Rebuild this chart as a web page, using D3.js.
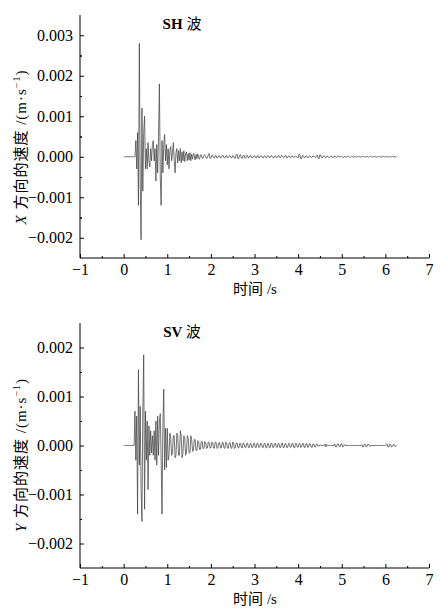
<!DOCTYPE html>
<html>
<head>
<meta charset="utf-8">
<script src="https://cdn.jsdelivr.net/npm/d3@7"></script>
<style>
  body { margin: 0; background: #fff; }
  svg text { font-family: "Liberation Serif", serif; fill: #000; }
  svg text tspan.cjk { font-family: "Noto Sans CJK SC", sans-serif; }
</style>
</head>
<body>
<div id="vis"></div>
<script>
// sampling interval of the records, s
var sampleStep = 0.02;

// SH wave, X-direction velocity, units of 1e-4 m/s, one row = 0.2 s
var shVelocity = [
  0, 0, 0, 0, 0, 0, 0, 0, 0, 0,
  0, 0, 0, 0, 4, -3, 6, -12, 28, -6,
  -20.5, 12, -8.5, 6, 10, -3, 2, -3, 3.5, -1,
  -2.5, 2, -1, 3, 4, -1, 2, -6, 3, -4,
  5, 18, -5, -12, 4, -4, 3, 5.5, -1, 3,
  -2, 2, -3, 1.5, 2.5, -1, 1, 3.5, -1, -4,
  1, 2, -1.5, 1.5, -1, 2, -1.5, 1.2, -1, 1.5,
  -1.2, 0.8, 1.2, -1, 0.8, -0.8, 1, -1, 0.6, -0.6,
  0.8, 0.2, -0.8, 0.6, -0.5, 0.7, -0.2, -0.6, 0.4, 0.5,
  -0.4, -0.3, 0.3, 0.5, 0.1, -0.4, -0.3, 0.4, 0.8, -0.3,
  -0.4, 0.3, 0.4, -0.2, -0.4, 0.3, 0.3, -0.3, -0.2, 0.3,
  0.2, -0.3, -0.2, 0.3, 0.3, -0.2, -0.3, 0.2, 0.3, -0.3,
  -0.2, 0.2, 0.3, -0.2, -0.3, 0.3, 0.2, -0.3, -0.4, 0.5,
  0.6, -0.5, -0.4, 0.4, 0.5, -0.3, -0.4, 0.3, 0.4, -0.3,
  -0.3, 0.3, 0.3, -0.3, -0.2, 0.3, 0.2, -0.3, -0.2, 0.2,
  0.3, -0.2, -0.3, 0.2, 0.3, -0.3, -0.2, 0.2, 0.2, -0.2,
  -0.3, 0.2, 0.2, -0.2, -0.3, 0.3, 0.2, -0.2, -0.2, 0.3,
  0.2, -0.2, -0.3, 0.2, 0.2, -0.2, -0.2, 0.2, 0.3, -0.2,
  -0.2, 0.3, 0.2, -0.2, -0.2, 0.2, 0.3, -0.3, -0.2, 0.2,
  0.2, -0.2, -0.2, 0.2, 0.2, -0.2, -0.1, 0.2, 0.1, -0.2,
  -0.3, 0.6, 0.5, -0.5, -0.4, 0.3, 0.2, -0.2, -0.2, 0.2,
  0.2, -0.2, -0.2, 0.2, 0.1, -0.2, -0.1, 0.2, 0.2, -0.1,
  -0.2, 0.2, 0.4, -0.4, -0.5, 0.5, 0.4, -0.3, -0.2, 0.2,
  0.2, -0.2, -0.2, 0.2, 0.1, -0.2, -0.2, 0.1, 0.2, -0.1,
  -0.2, 0.1, 0.2, -0.1, -0.1, 0.1, 0.2, -0.1, -0.1, 0.1,
  0.1, -0.1, -0.2, 0.1, 0.1, -0.1, -0.1, 0.1, 0.1, -0.1,
  -0.1, 0.1, 0.1, -0.1, -0.1, 0.1, 0, -0.1, 0, 0.1,
  0.1, -0.1, 0, 0, 0.1, 0, -0.1, 0, 0, 0.1,
  0, -0.1, 0, 0.1, 0, -0.1, 0, 0, 0.1, 0,
  -0.1, 0, 0, 0.1, 0, -0.1, 0, 0, 0.1, -0.1,
  0, 0.1, 0, -0.1, 0, 0.1, -0.1, 0, 0.1, -0.1,
  0, 0.1, -0.1, 0
];

// SV wave, Y-direction velocity, units of 1e-4 m/s, one row = 0.2 s
var svVelocity = [
  0, 0, 0, 0, 0, 0, 0, 0, 0, 0,
  0, 0, 0, 7, -3, 6, -14, 15.5, -4, 8,
  -9, -15.5, 7, 18.5, -13, 7, -3, 5, -9, 4,
  -2, 3, -1.5, 2, -2, 3, -3, 5, -4, 6,
  -2, 5, 6.5, -3, -14, 4, 11.5, -5, 3.5, -4.5,
  3.5, -3, -2, 2.5, 1.5, -2, -1.5, 2, 2, -2.5,
  -2, 2.5, 2, -2, -2, 3, 2, -2.5, -1.5, 2,
  1.5, -2, -1.5, 2, 1.5, -1.5, -1.5, 2, 1.2, -1.2,
  -1, 1.2, 1.2, -1, -1, 1, 0.8, -0.8, -0.8, 0.8,
  0.8, -0.6, -0.6, 0.8, 0.6, -0.6, -0.5, 0.7, 0.6, -0.5,
  -0.5, 0.6, 0.6, -0.5, -0.6, 0.7, 0.6, -0.6, -0.5, 0.5,
  0.6, -0.5, -0.5, 0.6, 0.6, -0.5, -0.6, 0.7, 0.6, -0.5,
  -0.6, 0.5, 0.6, -0.5, -0.6, 0.7, 0.5, -0.6, -0.5, 0.5,
  0.5, -0.4, -0.5, 0.4, 0.4, -0.4, -0.5, 0.5, 0.4, -0.4,
  -0.4, 0.4, 0.5, -0.4, -0.4, 0.4, 0.4, -0.5, -0.4, 0.4,
  0.4, -0.4, -0.4, 0.5, 0.4, -0.4, -0.3, 0.4, 0.4, -0.4,
  -0.4, 0.4, 0.4, -0.4, -0.5, 0.4, 0.4, -0.4, -0.4, 0.5,
  0.4, -0.4, -0.4, 0.4, 0.4, -0.3, -0.4, 0.4, 0.4, -0.4,
  -0.4, 0.4, 0.5, -0.4, -0.4, 0.4, 0.3, -0.4, -0.4, 0.4,
  0.4, -0.4, -0.3, 0.4, 0.4, -0.4, -0.5, 0.4, 0.4, -0.3,
  -0.4, 0.4, 0.4, -0.4, -0.3, 0.4, 0.4, -0.4, -0.4, 0.3,
  0.4, -0.4, -0.3, 0.4, 0.3, -0.3, -0.4, 0.3, 0.3, -0.3,
  -0.3, 0.3, 0.2, -0.2, 0, 0, 0.1, 0, 0, 0,
  0, 0.3, -0.3, 0.2, 0, 0, 0, 0, 0, 0,
  0, 0, 0.3, -0.3, -0.3, 0.3, 0.3, -0.2, -0.3, 0.3,
  0.3, -0.3, -0.2, 0.2, 0, 0, 0, 0, 0, 0,
  0, 0, 0, 0, 0, 0, 0, 0, 0, 0,
  0, 0, 0, 0.2, -0.3, -0.3, 0.3, 0.2, -0.3, -0.2,
  0.3, 0.2, -0.2, 0, 0, 0, 0, 0, 0, 0,
  0, 0, 0, 0, 0, 0, 0, 0, 0, 0,
  0, 0.2, 0.3, -0.3, -0.3, 0.3, 0.2, -0.3, -0.2, 0.2,
  0.2, -0.2, -0.1, 0
];

var timeTicks = [-1, 0, 1, 2, 3, 4, 5, 6, 7];
var shTicks = [-0.002, -0.001, 0, 0.001, 0.002, 0.003];
var svTicks = [-0.002, -0.001, 0, 0.001, 0.002];

var width = 446;
var height = 612;

var svg = d3.select('#vis')
  .append('svg')
  .attr('width', width)
  .attr('height', height);

function toPoints(values) {
  return values.map(function (v, i) {
    return { t: i * sampleStep, v: v * 1e-4 };
  });
}

// minor ticks halfway between the major ones
function halfSteps(ticks, step) {
  var out = [];
  for (var i = 0; i < ticks.length; i++) {
    out.push(ticks[i] + step / 2);
    out.push(ticks[i] - step / 2);
  }
  return out;
}

function drawPanel(opts) {
  var x = d3.scaleLinear().domain([-1, 7]).range([80, 429]);
  var y = d3.scaleLinear().domain(opts.yDomain).range([opts.bottom, opts.top]);

  var g = svg.append('g');

  // trace
  g.append('path')
    .datum(toPoints(opts.values))
    .attr('fill', 'none')
    .attr('stroke', '#444')
    .attr('stroke-width', 0.75)
    .attr('d', d3.line()
      .x(function (d) { return x(d.t); })
      .y(function (d) { return y(d.v); }));

  // x axis, ticks point inward
  var xAxis = g.append('g')
    .attr('transform', 'translate(0,' + opts.bottom + ')')
    .call(d3.axisBottom(x).tickValues(timeTicks).tickSize(-4).tickPadding(6)
      .tickFormat(d3.format('d')));
  g.append('g')
    .attr('transform', 'translate(0,' + opts.bottom + ')')
    .call(d3.axisBottom(x).tickValues(timeTicks.slice(0, -1).map(function (d) { return d + 0.5; }))
      .tickSize(-2).tickFormat(''))
    .select('.domain').remove();

  var yMinor = halfSteps(opts.yTicks, 0.001).filter(function (d) {
    return d > opts.yDomain[0] && d < opts.yDomain[1];
  });
  var yAxis = g.append('g')
    .attr('transform', 'translate(80,0)')
    .call(d3.axisLeft(y).tickValues(opts.yTicks).tickSize(-4).tickPadding(7)
      .tickFormat(d3.format('.3f')));
  g.append('g')
    .attr('transform', 'translate(80,0)')
    .call(d3.axisLeft(y).tickValues(yMinor).tickSize(-2).tickFormat(''))
    .select('.domain').remove();

  // only left and bottom lines, no end caps
  yAxis.select('.domain').attr('d', 'M0,' + opts.top + 'V' + opts.bottom);
  xAxis.select('.domain').attr('d', 'M80,0H429');

  g.selectAll('.tick line').attr('stroke', '#000');
  g.selectAll('.domain').attr('stroke', '#000');
  g.selectAll('.tick text')
    .style('font-family', '"Liberation Serif", serif')
    .style('font-size', '16px');

  // panel title
  var title = g.append('text')
    .attr('x', 182)
    .attr('y', opts.top + opts.titleOffset)
    .attr('text-anchor', 'middle')
    .style('font-size', '15px')
    .style('font-weight', 'bold');
  title.append('tspan').text(opts.wave + ' ');
  title.append('tspan').attr('class', 'cjk').style('font-weight', 'normal').text('波');

  // x label
  var xl = g.append('text')
    .attr('x', 255)
    .attr('y', opts.bottom + 36)
    .attr('text-anchor', 'middle')
    .style('font-size', '15px');
  xl.append('tspan').attr('class', 'cjk').text('时间');
  xl.append('tspan').text(' /s');

  // y label
  var yl = g.append('text')
    .attr('transform', 'translate(26,' + opts.labelY + ') rotate(-90)')
    .attr('text-anchor', 'middle')
    .style('font-size', '15px')
    .style('letter-spacing', '1px');
  yl.append('tspan').style('font-style', 'italic').text(opts.axisName + ' ');
  yl.append('tspan').attr('class', 'cjk').text('方向的速度');
  yl.append('tspan').text(' /(m\u00b7s');
  yl.append('tspan').style('font-size', '10px').attr('dy', -6).text('\u22121');
  yl.append('tspan').attr('dy', 6).text(')');
}

drawPanel({
  values: shVelocity, yDomain: [-0.0025, 0.0035], yTicks: shTicks,
  top: 15, bottom: 258, titleOffset: 14, labelY: 147,
  wave: 'SH', axisName: 'X'
});

drawPanel({
  values: svVelocity, yDomain: [-0.0025, 0.0025], yTicks: svTicks,
  top: 323, bottom: 568, titleOffset: 14, labelY: 455,
  wave: 'SV', axisName: 'Y'
});
</script>
</body>
</html>
